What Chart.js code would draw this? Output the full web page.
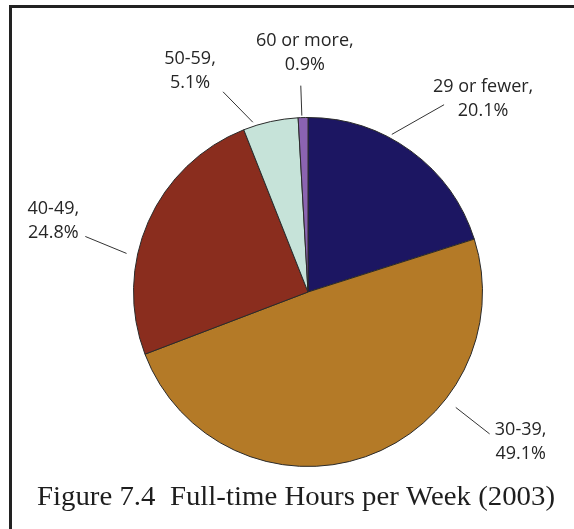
<!DOCTYPE html>
<html>
<head>
<meta charset="utf-8">
<script src="https://cdn.jsdelivr.net/npm/chart.js@4.4.1/dist/chart.umd.min.js"></script>
<style>
  html, body { margin: 0; padding: 0; background: #fff; }
  canvas { display: block; }
</style>
</head>
<body>
<canvas id="myChart" width="574" height="529"></canvas>
<script>
// hours worked per week, full-time (2003)
const labels = ['29 or fewer', '30-39', '40-49', '50-59', '60 or more'];
const shares = [20.1, 49.1, 24.8, 5.1, 0.9];
const colors = ['#1c1662', '#b47a27', '#8a2d1e', '#c6e3d9', '#8b63b1'];
const caption = 'Figure 7.4  Full-time Hours per Week (2003)';

// callout layout: angle in degrees clockwise from 12 o'clock,
// radii as extra px beyond the pie edge, text offset from the line end
const callouts = [
    { a1: 28, a2: 36, r1: 4, r2: 57, dx: 39, dy: -13 },
    { a1: 128, a2: 128, r1: 13, r2: 56, dx: 31, dy: 1 },
    { a1: 282, a2: 284, r1: 11, r2: 55, dx: -32, dy: -22 },
    { a1: 342, a2: 337, r1: 4, r2: 43, dx: -33, dy: -28 },
    { a1: -2, a2: -2, r1: 2, r2: 32, dx: 4, dy: -40 }
];

const frameAndText = {
    id: 'frameAndText',
    afterDraw(chart) {
        const ctx = chart.ctx;
        const arc = chart.getDatasetMeta(0).data[0];
        const cx = arc.x, cy = arc.y, r = arc.outerRadius;
        ctx.save();

        // frame (left + top)
        ctx.fillStyle = '#222';
        ctx.fillRect(9, 5, 3, 529);
        ctx.fillRect(9, 5, 574, 3);

        // callouts
        ctx.strokeStyle = '#333';
        ctx.lineWidth = 1;
        ctx.fillStyle = '#262626';
        ctx.font = '18px "Open Sans", sans-serif';
        ctx.textAlign = 'center';
        ctx.textBaseline = 'alphabetic';
        callouts.forEach(function (c, i) {
            const t1 = c.a1 * Math.PI / 180, t2 = c.a2 * Math.PI / 180;
            const x1 = cx + (r + c.r1) * Math.sin(t1), y1 = cy - (r + c.r1) * Math.cos(t1);
            const x2 = cx + (r + c.r2) * Math.sin(t2), y2 = cy - (r + c.r2) * Math.cos(t2);
            ctx.beginPath();
            ctx.moveTo(x1, y1);
            ctx.lineTo(x2, y2);
            ctx.stroke();
            ctx.fillText(labels[i] + ',', x2 + c.dx, y2 + c.dy);
            ctx.fillText(shares[i].toFixed(1) + '%', x2 + c.dx, y2 + c.dy + 24);
        });

        // caption
        ctx.font = '28px "Liberation Serif", "Times New Roman", serif';
        ctx.fillStyle = '#1e1e1e';
        const w = ctx.measureText(caption).width;
        ctx.translate(296, 505);
        ctx.scale(518 / w, 1);
        ctx.fillText(caption, 0, 0);
        ctx.restore();
    }
};

const data = {
    labels: labels,
    datasets: [{
        data: shares,
        backgroundColor: colors,
        borderColor: '#2a2a2a',
        borderWidth: 1
    }]
};

const config = {
    type: 'pie',
    data: data,
    options: {
        responsive: false,
        animation: false,
        layout: { padding: { left: 133, right: 91, top: 117, bottom: 62 } },
        plugins: {
            legend: { display: false },
            tooltip: { enabled: false }
        }
    },
    plugins: [frameAndText]
};

const myChart = new Chart(document.getElementById('myChart'), config);
</script>
</body>
</html>
